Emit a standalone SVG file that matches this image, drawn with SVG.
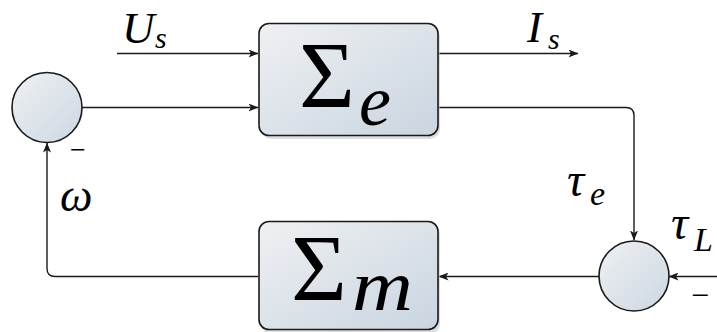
<svg xmlns="http://www.w3.org/2000/svg" width="717" height="332" viewBox="0 0 717 332">
<defs>
<linearGradient id="gBox" x1="0" y1="0" x2="1" y2="1">
<stop offset="0" stop-color="#eff0f2"/>
<stop offset="1" stop-color="#c9d5e0"/>
</linearGradient>
<linearGradient id="gCirc" x1="0" y1="0" x2="1" y2="1">
<stop offset="0" stop-color="#eff0f2"/>
<stop offset="1" stop-color="#ccd7e2"/>
</linearGradient>
<marker id="arr" viewBox="0 0 10 8" refX="9.5" refY="4" markerWidth="10" markerHeight="8" markerUnits="userSpaceOnUse" orient="auto">
<path d="M0,0 L10,4 L0,8 L2.5,4 z" fill="#1a1a1a"/>
</marker>
</defs>
<style>
.box{fill:url(#gBox);stroke:#1a1a1a;stroke-width:1.6}
.shadow{fill:#c8c8c8;opacity:0.6}
.circ{fill:url(#gCirc);stroke:#1a1a1a;stroke-width:1.6}
.wire{fill:none;stroke:#1a1a1a;stroke-width:1.4}
.arrow{marker-end:url(#arr)}
.lbl{font-family:"Liberation Serif","DejaVu Serif",serif;fill:#000}
.it{font-style:italic}
</style>
<rect width="717" height="332" fill="#ffffff"/>
<g id="connectors">
<path class="wire arrow" d="M117,53.5 H258"/>
<path class="wire arrow" d="M82,107.5 H258"/>
<path class="wire arrow" d="M438,53.5 H578"/>
<path class="wire arrow" d="M438,107.5 H626 Q634,107.5 634,115.5 V240"/>
<path class="wire arrow" d="M717,276.5 H669"/>
<path class="wire arrow" d="M599,276.5 H439"/>
<path class="wire arrow" d="M258,276.5 H55 Q47,276.5 47,268.5 V143"/>
</g>
<g id="sum1">
<circle class="circ" cx="47" cy="107.5" r="35"/>
<text class="lbl" x="78" y="159" font-size="28" text-anchor="middle">−</text>
</g>
<g id="sigma_e">
<rect class="shadow" x="261" y="26" width="179" height="113" rx="10"/>
<rect class="box" x="259" y="23.5" width="179" height="112" rx="10"/>
<text class="lbl" x="299" y="108" font-size="96">Σ<tspan class="it" font-size="72" x="359" y="125">e</tspan></text>
</g>
<g id="sigma_m">
<rect class="shadow" x="261" y="224" width="179" height="110" rx="10"/>
<rect class="box" x="259" y="221.5" width="179" height="108" rx="10"/>
<text class="lbl" x="291" y="301" font-size="96">Σ<tspan class="it" font-size="72" x="352" y="310" textLength="61" lengthAdjust="spacingAndGlyphs">m</tspan></text>
</g>
<g id="sum2">
<circle class="circ" cx="634" cy="276" r="35"/>
<text class="lbl" x="700" y="306" font-size="32" text-anchor="middle">−</text>
</g>
<g id="labels">
<text class="lbl it" x="122" y="43" font-size="45">U<tspan font-size="30" x="155" y="48">s</tspan></text>
<text class="lbl it" x="527" y="42" font-size="45">I<tspan font-size="30" x="548" y="49">s</tspan></text>
<text class="lbl it" x="567" y="196" font-size="48">τ<tspan font-size="34" x="590" y="205">e</tspan></text>
<text class="lbl it" x="671" y="239" font-size="48">τ<tspan font-size="34" x="694" y="251">L</tspan></text>
<text class="lbl it" x="60" y="211" font-size="46">ω</text>
</g>
</svg>
